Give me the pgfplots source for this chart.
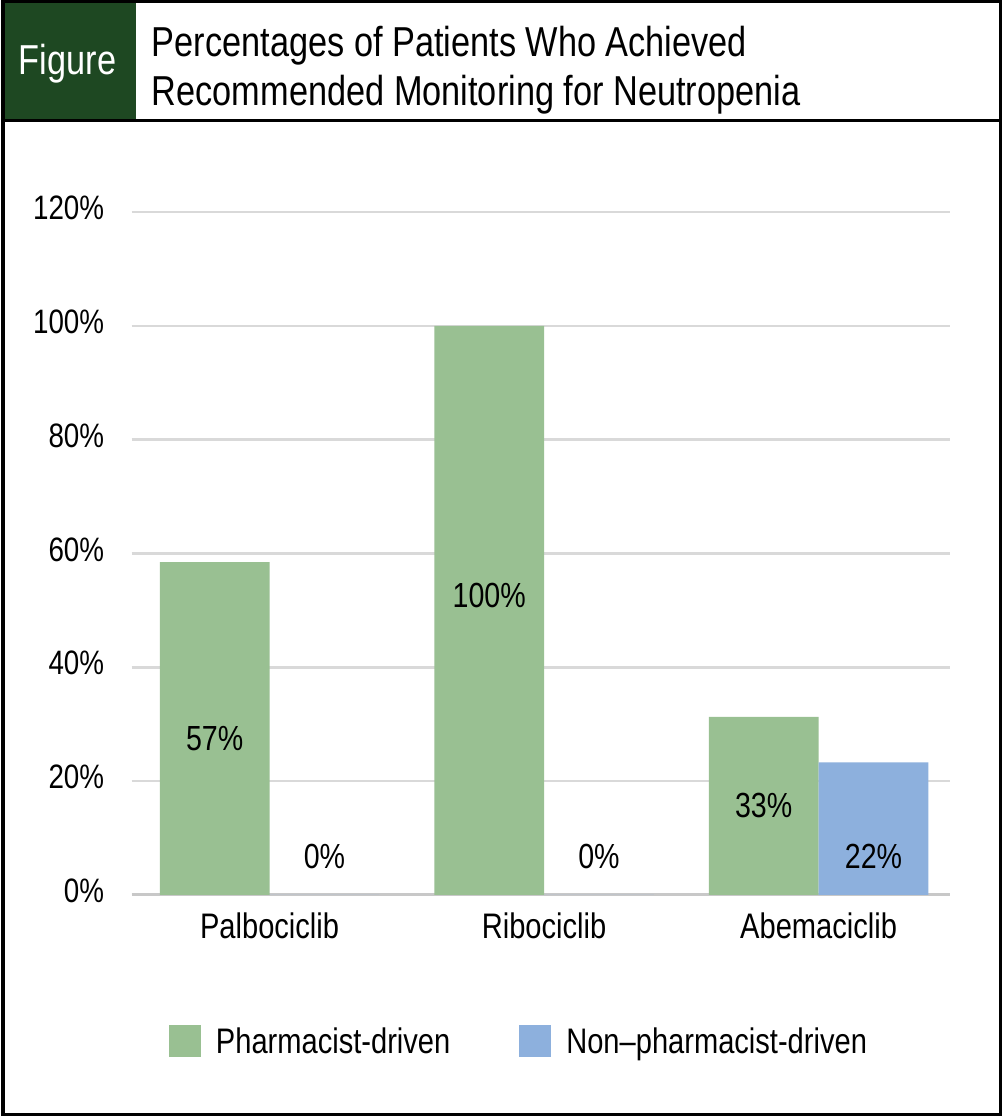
\documentclass[border=0pt]{standalone}
\usepackage{fontspec}
\setmainfont{Liberation Sans}[FakeStretch=0.82]
\usepackage{pgfplots}
\pgfplotsset{compat=1.18}
\definecolor{hdrgreen}{RGB}{30,72,34}
\definecolor{bargreen}{RGB}{153,192,146}
\definecolor{barblue}{RGB}{141,176,221}
\definecolor{gridgray}{RGB}{217,217,217}
\definecolor{basegray}{RGB}{200,200,200}
\pgfplotsset{
  sq legend/.style={legend image code/.code={\fill[##1] (0bp,-8bp) rectangle (16bp,8bp);}},
}
\begin{document}
% 1 px of the reference = 0.5bp, y measured upward from the bottom
\begin{tikzpicture}[x=0.5bp,y=0.5bp]
  \fill[white] (0,0) rectangle (1000,1116);
  \fill[hdrgreen] (3,995) rectangle (134,1113);
  \node[white, font=\fontsize{21}{25}\selectfont] at (66,1052) {Figure};
  \node[anchor=base west, inner sep=0pt, font=\fontsize{21}{25}\selectfont] at (150,1059) {Percentages of Patients Who Achieved};
  \node[anchor=base west, inner sep=0pt, font=\fontsize{21}{25}\selectfont] at (150,1010) {Recommended Monitoring for Neutropenia};
  \draw[line width=1.5bp] (0,995) -- (1000,995);
  \draw[line width=1.5bp] (1.5,1.5) rectangle (998.5,1114.5);

  \begin{axis}[
    at={(65bp,110.5bp)}, anchor=south west,
    scale only axis, width=409bp, height=341.5bp,
    xmin=-0.503, xmax=2.477, ymin=0, ymax=120,
    axis line style={draw=none},
    tick style={draw=none},
    ytick={0,20,...,120},
    yticklabel={\pgfmathprintnumber{\tick}\%},
    xtick={0,1,2},
    xticklabels={Palbociclib,Ribociclib,Abemaciclib},
    ymajorgrids, grid style={line width=1.25bp, gridgray},
    yticklabel style={anchor=east, inner sep=0pt, xshift=-13.5bp, yshift=2bp,
      font=\fontsize{17}{20}\selectfont},
    xticklabel style={anchor=base, inner sep=0pt, yshift=-22bp,
      font=\fontsize{17.8}{20}\selectfont},
    /pgf/number format/assume math mode=true,
    legend columns=2,
    legend style={draw=none, fill=none, at={(0.0453,-0.2138)}, anchor=west,
      inner sep=0pt, font=\fontsize{17.8}{20}\selectfont,
      /tikz/every even column/.append style={column sep=34.5bp},
      nodes={inner sep=0pt, text depth=0pt}},
    legend cell align=left,
    clip=false,
  ]
    \draw[line width=1.5bp, basegray] (axis cs:-0.503,0) -- (axis cs:2.477,0);
    \addplot[ybar, bar width=0.4, bar shift=-0.2, fill=bargreen, draw=none, sq legend]
      coordinates {(0,58.5) (1,100) (2,31.3)};
    \addlegendentry{\hspace{7.5bp}Pharmacist-driven}
    \addplot[ybar, bar width=0.4, bar shift=0.2, fill=barblue, draw=none, sq legend]
      coordinates {(0,0) (1,0) (2,23.3)};
    \addlegendentry{\hspace{7.5bp}Non–pharmacist-driven}
    % value labels, placed where the reference prints them
    \addplot[only marks, mark=none, forget plot, point meta=explicit symbolic,
      nodes near coords, nodes near coords style={anchor=center, inner sep=0pt,
      font=\fontsize{17.5}{20}\selectfont}]
      table[meta=lab] {
        x y lab
        -0.2 27.5 57\%
        0.8 52.7 100\%
        1.8 15.8 33\%
      };
    \addplot[only marks, mark=none, forget plot, point meta=explicit symbolic,
      nodes near coords, nodes near coords style={anchor=center, inner sep=0pt,
      font=\fontsize{17.5}{20}\selectfont}]
      table[meta=lab] {
        x y lab
        0.2 6.8 0\%
        1.2 6.8 0\%
        2.2 6.8 22\%
      };
  \end{axis}
\end{tikzpicture}
\end{document}
